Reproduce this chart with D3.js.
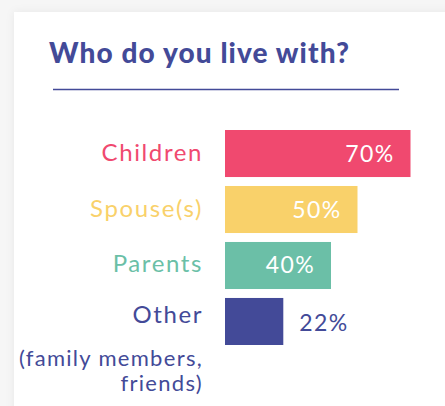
<!DOCTYPE html>
<html>
<head>
<meta charset="utf-8">
<script src="https://cdn.jsdelivr.net/npm/d3@7"></script>
<style>
  html, body { margin: 0; padding: 0; background: #f6f6f6; }
  svg { display: block; }
</style>
</head>
<body>
<svg id="chart" width="445" height="406"></svg>
<script>
const categories = ["Children", "Spouse(s)", "Parents", "Other"];
const values = [70, 50, 40, 22];
const valueLabels = ["70%", "50%", "40%", "22%"];
const colors = ["#f0496f", "#f9d16a", "#6bbfa7", "#434a98"];
const subLabel = ["(family members,", "friends)"];
const title = "Who do you live with?";

const svg = d3.select("#chart");
const W = 445, H = 406;
const navy = "#434a98";
const font = "Lato, 'Open Sans', sans-serif";

// card with soft shadow
const defs = svg.append("defs");
const f = defs.append("filter").attr("id", "sh").attr("x", "-10%").attr("y", "-10%").attr("width", "120%").attr("height", "120%");
f.append("feGaussianBlur").attr("in", "SourceAlpha").attr("stdDeviation", 4).attr("result", "b");
f.append("feColorMatrix").attr("in", "b").attr("type", "matrix")
  .attr("values", "0 0 0 0 0  0 0 0 0 0  0 0 0 0 0  0 0 0 0.06 0").attr("result", "c");
const m = f.append("feMerge");
m.append("feMergeNode").attr("in", "c");
m.append("feMergeNode").attr("in", "SourceGraphic");
svg.append("rect").attr("x", 14).attr("y", 12).attr("width", W + 20).attr("height", H + 20)
  .attr("fill", "#fff").attr("filter", "url(#sh)");

// title
svg.append("text").attr("x", 49).attr("y", 63)
  .attr("font-family", font).attr("font-weight", 900).attr("font-size", 28)
  .attr("letter-spacing", 1.1)
  .attr("fill", navy).text(title);
svg.append("line").attr("x1", 53).attr("x2", 399).attr("y1", 89.5).attr("y2", 89.5)
  .attr("stroke", navy).attr("stroke-width", 1.5);

const x = d3.scaleLinear().domain([0, 100]).range([225, 490]);
const y = d3.scaleBand().domain(categories).range([130, 345]).paddingInner(0.16).paddingOuter(0);

const g = svg.append("g");
g.selectAll("rect.bar").data(categories).join("rect").attr("class", "bar")
  .attr("x", x(0)).attr("y", d => y(d))
  .attr("width", (d, i) => x(values[i]) - x(0))
  .attr("height", y.bandwidth())
  .attr("fill", (d, i) => colors[i]);

// category labels
g.selectAll("text.cat").data(categories).join("text").attr("class", "cat")
  .attr("x", 203).attr("y", (d, i) => y(d) + y.bandwidth() / 2 + (i === 3 ? 2 : 7))
  .attr("text-anchor", "end")
  .attr("font-family", font).attr("font-size", 24).attr("letter-spacing", 1.6)
  .attr("fill", (d, i) => colors[i]).text(d => d);

// value labels
g.selectAll("text.val").data(categories).join("text").attr("class", "val")
  .attr("x", (d, i) => values[i] >= 30 ? x(values[i]) - 16 : x(values[i]) + 16)
  .attr("y", (d, i) => y(d) + y.bandwidth() / 2 + (i === 3 ? 10 : 8))
  .attr("text-anchor", (d, i) => values[i] >= 30 ? "end" : "start")
  .attr("font-family", font).attr("font-size", 23).attr("letter-spacing", 1.4)
  .attr("fill", (d, i) => values[i] >= 30 ? "#fff" : navy)
  .text((d, i) => valueLabels[i]);

// sub label for Other
g.selectAll("text.sub").data(subLabel).join("text").attr("class", "sub")
  .attr("x", 203).attr("y", (d, i) => 366 + i * 25)
  .attr("text-anchor", "end")
  .attr("font-family", font).attr("font-size", 22).attr("letter-spacing", 1.3)
  .attr("fill", navy).text(d => d);
</script>
</body>
</html>
